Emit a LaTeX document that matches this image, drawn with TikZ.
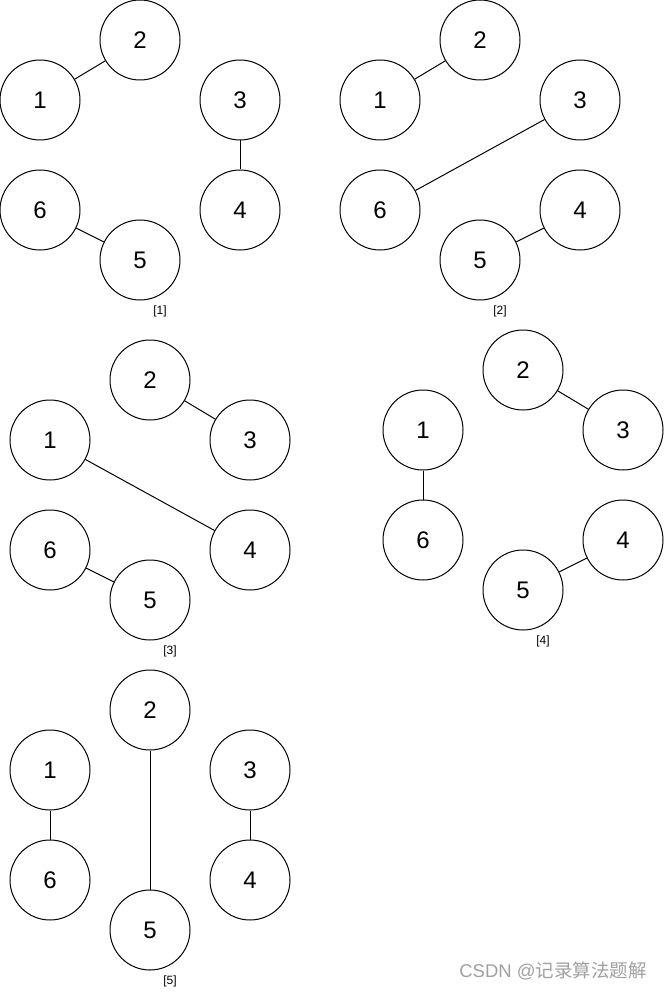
\documentclass[tikz,border=0pt]{standalone}
\usepackage{fontspec}
\setmainfont{Liberation Sans}
\newfontfamily\cjkfont{Noto Sans CJK SC}
\usetikzlibrary{positioning}
\definecolor{wmgris}{RGB}{160,160,160}

\begin{document}
\begin{tikzpicture}[
  x=1pt, y=-1pt,
  vtx/.style={circle, draw=black, line width=1pt, fill=white, minimum size=80pt,
    inner sep=0pt, font=\fontsize{24}{26}\selectfont},
  caption/.style={font=\fontsize{12}{14}\selectfont, inner sep=0pt},
  link/.style={draw=black, line width=1pt}
]
  \useasboundingbox (0,0) rectangle (664,992);

  % the five forests
  \foreach \g/\ox/\oy in {1/40/40, 2/380/40, 3/50/380, 4/423/370, 5/50/710} {
    \begin{scope}[shift={(\ox,\oy)}]
      \node[vtx] (g\g n2) at (100,0) {2};
      \node[vtx] (g\g n1) at (0,60) {1};
      \node[vtx] (g\g n3) at (200,60) {3};
      \node[vtx] (g\g n6) at (0,170) {6};
      \node[vtx] (g\g n4) at (200,170) {4};
      \node[vtx] (g\g n5) at (100,220) {5};
      \node[caption] (g\g cap) at (120,271) {[\g]};
    \end{scope}
  }

  % [1]
  \draw[link] (g1n1) -- (g1n2);
  \draw[link] (g1n3) -- (g1n4);
  \draw[link] (g1n6) -- (g1n5);

  % [2]
  \draw[link] (g2n1) -- (g2n2);
  \draw[link] (g2n3) -- (g2n6);
  \draw[link] (g2n5) -- (g2n4);

  % [3]
  \draw[link] (g3n2) -- (g3n3);
  \draw[link] (g3n1) -- (g3n4);
  \draw[link] (g3n6) -- (g3n5);

  % [4]
  \draw[link] (g4n2) -- (g4n3);
  \draw[link] (g4n1) -- (g4n6);
  \draw[link] (g4n5) -- (g4n4);

  % [5]
  \draw[link] (g5n1) -- (g5n6);
  \draw[link] (g5n2) -- (g5n5);
  \draw[link] (g5n3) -- (g5n4);

  % watermark
  \node[wmgris, font=\fontsize{18.5}{20}\selectfont, inner sep=0pt] (wm) at (553,971)
    {CSDN @{\cjkfont 记录算法题解}};
\end{tikzpicture}
\end{document}
